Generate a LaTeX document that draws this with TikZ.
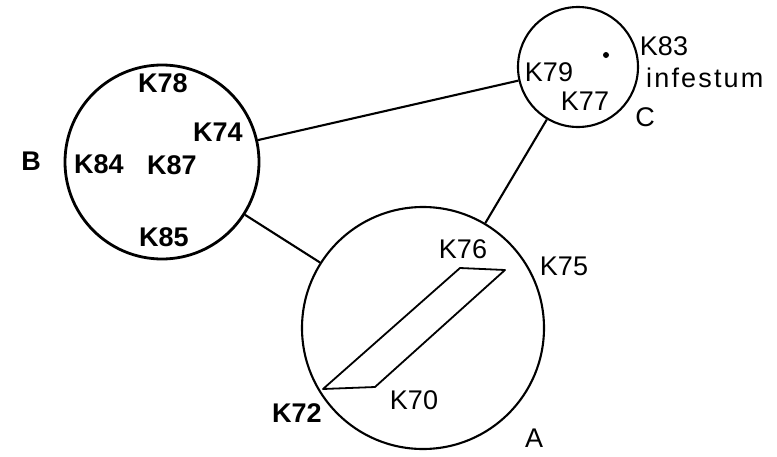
\documentclass[tikz,border=0pt]{standalone}
\usepackage{fontspec}
\setmainfont{Liberation Sans}
\begin{document}
\begin{tikzpicture}[x=1pt,y=-1pt,
  ring/.style={circle, draw, inner sep=0pt},
  bold lbl/.style={font=\fontsize{27}{30}\selectfont\bfseries, inner sep=0pt},
  thin lbl/.style={font=\fontsize{27}{30}\selectfont, inner sep=0pt},
  link/.style={line width=2.1pt}]
\useasboundingbox (0,0) rectangle (777,456);
\node[ring, line width=2.8pt, minimum size=194pt] (B) at (162,162) {};
\node[ring, line width=2.1pt, minimum size=120pt] (C) at (578,67) {};
\node[ring, line width=2.1pt, minimum size=242pt] (A) at (423,328) {};
\draw[link] (B) -- (C);
\draw[link] (B) -- (A);
\draw[link] (C) -- (A);
% labels B
\node[bold lbl] (lB) at (31,161) {B};
\node[bold lbl] (k78) at (163,83) {K78};
\node[bold lbl] (k74) at (218,132) {K74};
\node[bold lbl] (k84) at (99,164) {K84};
\node[bold lbl] (k87) at (172,165) {K87};
\node[bold lbl] (k85) at (164,237) {K85};
% labels C
\node[thin lbl] (k79) at (549,72) {K79};
\node[thin lbl] (k77) at (585,101) {K77};
\node[thin lbl] (k83) at (664,46) {K83};
\node[thin lbl, anchor=west, font=\fontsize{27}{30}\selectfont\addfontfeature{LetterSpace=8}] (inf) at (646,78) {infestum};
\node[thin lbl] (lC) at (645,117) {C};
\fill (606,55) circle (3pt);
% labels A
\node[thin lbl] (k76) at (463,249) {K76};
\node[thin lbl] (k75) at (564,266) {K75};
\node[bold lbl] (k72) at (297,413) {K72};
\node[thin lbl] (k70) at (414,400) {K70};
\node[thin lbl] (lA) at (534,438) {A};
% parallelogram
\draw[line width=1.8pt, line join=round] (460,268) -- (505,270) -- (375,387) -- (323,389) -- cycle;
\end{tikzpicture}
\end{document}
